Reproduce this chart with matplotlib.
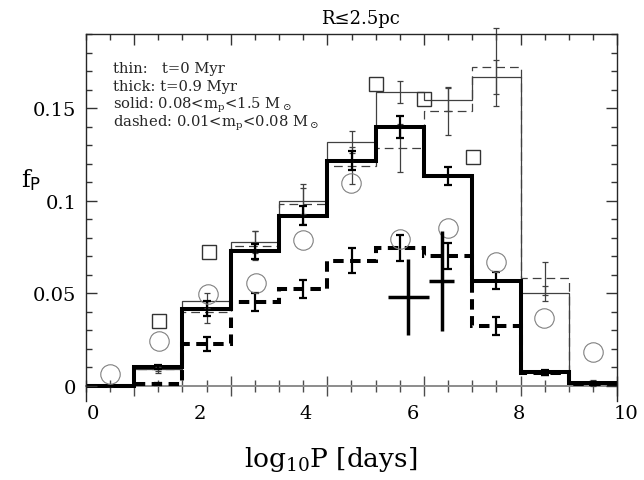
import numpy as np
import matplotlib.pyplot as plt
from matplotlib.ticker import MultipleLocator, FuncFormatter

plt.rcParams['font.family'] = ['DejaVu Serif']
plt.rcParams['mathtext.fontset'] = 'dejavuserif'

# log10 P [days] bin edges of the model histograms
bin_edges = [-0.13, 0.78, 1.68, 2.59, 3.50, 4.40, 5.31, 6.22, 7.12, 8.03, 8.93, 9.84]

# t = 0 Myr (thin)
thin_solid = [0.0, 0.009, 0.046, 0.0775, 0.100, 0.1316, 0.1586, 0.1546, 0.1667, 0.050, 0.002]
thin_solid_err = [0.0, 0.001, 0.004, 0.006, 0.007, 0.006, 0.006, 0.006, 0.009, 0.004, 0.001]
thin_dashed = [0.0, 0.009, 0.0397, 0.0757, 0.0982, 0.1189, 0.1285, 0.1483, 0.1721, 0.058, 0.001]
thin_dashed_err = [0.0, 0.002, 0.006, 0.008, 0.011, 0.010, 0.013, 0.013, 0.021, 0.009, 0.001]

# t = 0.9 Myr (thick)
thick_solid = [0.0, 0.0099, 0.0415, 0.0726, 0.0919, 0.1216, 0.1397, 0.1132, 0.0568, 0.0072, 0.0015]
thick_solid_err = [0.0, 0.001, 0.004, 0.004, 0.005, 0.005, 0.006, 0.005, 0.0045, 0.0012, 0.0005]
thick_dashed = [0.0, 0.001, 0.0225, 0.0451, 0.0523, 0.0676, 0.0743, 0.070, 0.0321, 0.007, 0.001]
thick_dashed_err = [0.0, 0.0005, 0.004, 0.005, 0.005, 0.007, 0.007, 0.007, 0.005, 0.001, 0.0005]

# observed distributions
circ_logp = [0.33, 1.24, 2.16, 3.06, 3.95, 4.85, 5.76, 6.67, 7.57, 8.47, 9.39]
circ_f = [0.0063, 0.0243, 0.0496, 0.0555, 0.0789, 0.1096, 0.0793, 0.0852, 0.067, 0.0364, 0.018]
sq_logp = [1.24, 2.18, 5.31, 6.22, 7.13]
sq_f = [0.0351, 0.0721, 0.163, 0.155, 0.1235]
cross_logp = [5.92, 6.55]
cross_logp_err = [0.385, 0.235]
cross_f = [0.0478, 0.0565]
cross_f_err = [0.0207, 0.0268]

label_ticks = [0, 2, 4, 6, 8, 10]
legend_lines = [
    'thin:   t=0 Myr',
    'thick: t=0.9 Myr',
    r'solid: 0.08<m$_{\rm p}$<1.5 M$_\odot$',
    r'dashed: 0.01<m$_{\rm p}$<0.08 M$_\odot$',
]

edges = np.array(bin_edges)
centers = 0.5 * (edges[:-1] + edges[1:])
minor_pos = np.sort(np.concatenate([edges, centers]))
ymin, ymax = -0.0083, 0.190

fig = plt.figure(figsize=(6.44, 4.81), dpi=100)
ax = fig.add_axes([86 / 644, 1 - 402 / 481, 531 / 644, 367 / 481])
ax.set_xlim(edges[0], edges[-1])
ax.set_ylim(ymin, ymax)

# histograms
ax.stairs(thin_solid, edges, color='0.25', lw=0.9, baseline=None)
ax.stairs(thin_dashed, edges, color='0.25', lw=0.9, ls=(0, (7, 4)), baseline=None)
ax.stairs(thick_solid, edges, color='k', lw=2.9, baseline=None)
ax.stairs(thick_dashed, edges, color='k', lw=2.9, ls=(0, (2.6, 1.6)), baseline=None)

ax.errorbar(centers, thin_solid, yerr=thin_solid_err, fmt='none', ecolor='0.25',
            elinewidth=0.9, capsize=2.5, capthick=0.9, clip_on=False)
ax.errorbar(centers, thin_dashed, yerr=thin_dashed_err, fmt='none', ecolor='0.25',
            elinewidth=0.9, capsize=2.5, capthick=0.9, clip_on=False)
ax.errorbar(centers, thick_solid, yerr=thick_solid_err, fmt='none', ecolor='k',
            elinewidth=1.6, capsize=3, capthick=1.6)
ax.errorbar(centers, thick_dashed, yerr=thick_dashed_err, fmt='none', ecolor='k',
            elinewidth=1.6, capsize=3, capthick=1.6)

ax.plot(circ_logp, circ_f, 'o', mfc='none', mec='0.5', ms=14, mew=0.8)
ax.plot(sq_logp, sq_f, 's', mfc='none', mec='0.2', ms=10, mew=1.0)
ax.errorbar(cross_logp, cross_f, xerr=cross_logp_err, yerr=cross_f_err, fmt='none',
            ecolor='k', elinewidth=2.5, capsize=0)

# frame: ticks inside on top, left and right
for s in ['top', 'left', 'right']:
    ax.spines[s].set_linewidth(1.0)
    ax.spines[s].set_color('0.15')
ax.spines['bottom'].set_visible(False)

ax.xaxis.set_ticks_position('top')
ax.set_xticks(edges[1::2])
ax.set_xticks(minor_pos, minor=True)
ax.tick_params(axis='x', which='both', direction='in', labeltop=False, labelbottom=False,
               color='0.2')
ax.tick_params(axis='x', which='major', length=8, width=1)
ax.tick_params(axis='x', which='minor', length=4.3, width=1)

ax.yaxis.set_major_locator(MultipleLocator(0.05))
ax.yaxis.set_minor_locator(MultipleLocator(0.01))
ax.yaxis.set_major_formatter(FuncFormatter(lambda v, p: f'{v:g}'))
ax.tick_params(axis='y', which='both', direction='in', left=True, right=True,
               labelsize=14, color='0.2', pad=7)
ax.tick_params(axis='y', which='major', length=8, width=1)
ax.tick_params(axis='y', which='minor', length=4.3, width=1)

# f_P = 0 line with ticks crossing it
zax = ax.secondary_xaxis(-ymin / (ymax - ymin))
zax.set_xticks(edges[1::2])
zax.set_xticks(minor_pos, minor=True)
zax.tick_params(which='both', direction='inout', labelbottom=False, color='0.3', width=1)
zax.tick_params(which='major', length=15)
zax.tick_params(which='minor', length=8.5)
zax.spines['bottom'].set_color('0.55')
zax.spines['bottom'].set_linewidth(1.4)

# log10 P labels under the frame (the last one sits past the right edge)
xlab_trans = ax.get_xaxis_transform()
for v in label_ticks:
    ax.text(v, -0.008, f'{v:g}', transform=xlab_trans, fontsize=14,
            ha='center', va='top', clip_on=False)

for i, line in enumerate(legend_lines):
    ax.text(0.051, 0.907 - i * 0.0495, line, transform=ax.transAxes, fontsize=10.6,
            color='0.15', va='center', ha='left')

fig.text(360 / 644, 1 - 19 / 481, 'R≤2.5pc', fontsize=13, ha='center', va='center')
fig.text(331 / 644, 1 - 460 / 481, r'log$_{10}$P [days]', fontsize=19,
         ha='center', va='center')
fig.text(31 / 644, 1 - 180 / 481, r'$\mathrm{f}_{\mathsf{P}}$', fontsize=17,
         ha='center', va='center')

fig.savefig('out.png', dpi=100)
